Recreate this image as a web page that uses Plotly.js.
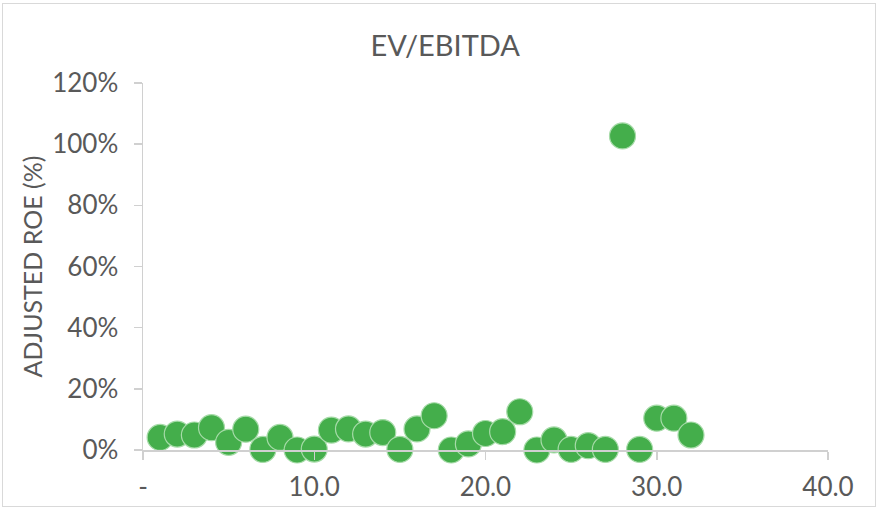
<!DOCTYPE html>
<html>
<head>
<meta charset="utf-8">
<script src="https://cdn.plot.ly/plotly-3.0.1.min.js"></script>
<style>
  html, body { margin: 0; padding: 0; background: #fff; }
  #wrap { position: relative; width: 878px; height: 508px; }
  #chart { position: absolute; left: 0; top: 0; width: 878px; height: 508px; }
  #frame { position: absolute; left: 2px; top: 3px; width: 872px; height: 502px; border: 1px solid #d9d9d9; pointer-events: none; }
</style>
</head>
<body>
<div id="wrap">
  <div id="chart"></div>
  <div id="frame"></div>
</div>
<script>
var evEbitda = [1, 2, 3, 4, 5, 6, 7, 8, 9, 10, 11, 12, 13, 14, 15, 16,
                17, 18, 19, 20, 21, 22, 23, 24, 25, 26, 27, 28, 29, 30, 31, 32];
var adjustedRoe = [0.041, 0.052, 0.049, 0.073, 0.025, 0.068, 0.002, 0.041, 0.000, 0.003, 0.065, 0.069,
                   0.052, 0.057, 0.002, 0.069, 0.112, 0.000, 0.020, 0.054, 0.060, 0.125, 0.000, 0.033,
                   0.002, 0.014, 0.002, 1.027, 0.002, 0.104, 0.104, 0.049];
var xTickVals = [0, 10, 20, 30, 40];
var xTickText = ['-', '10.0', '20.0', '30.0', '40.0'];
var yTickVals = [0, 0.2, 0.4, 0.6, 0.8, 1.0, 1.2];
var yTickText = ['0%', '20%', '40%', '60%', '80%', '100%', '120%'];

var fontFam = 'Lato, "Open Sans", sans-serif';
var textCol = '#595959';
var axisCol = '#d0d0d0';

var trace = {
  type: 'scatter',
  mode: 'markers',
  x: evEbitda,
  y: adjustedRoe,
  cliponaxis: false,
  marker: { size: 26, color: '#44ae4b', line: { color: '#a6dba8', width: 1.2 } },
  hoverinfo: 'x+y'
};

var layout = {
  width: 878,
  height: 508,
  margin: { l: 143, r: 50, t: 83, b: 58 },
  paper_bgcolor: '#ffffff',
  plot_bgcolor: '#ffffff',
  showlegend: false,
  font: { family: fontFam, color: textCol, size: 26 },
  title: {
    text: 'EV/EBITDA',
    font: { family: fontFam, size: 29, color: textCol },
    x: 0.507, xref: 'container', xanchor: 'center',
    y: 1 - 46 / 508, yref: 'container', yanchor: 'middle'
  },
  xaxis: {
    range: [0, 40],
    tickmode: 'array',
    tickvals: xTickVals,
    ticktext: xTickText,
    ticks: 'outside',
    ticklen: 8,
    tickwidth: 1.5,
    tickcolor: axisCol,
    showline: true,
    linecolor: axisCol,
    linewidth: 1.5,
    showgrid: false,
    zeroline: false,
    tickfont: { family: fontFam, size: 26, color: textCol },
    ticklabelstandoff: 5
  },
  yaxis: {
    range: [0, 1.2],
    tickmode: 'array',
    tickvals: yTickVals,
    ticktext: yTickText,
    ticks: 'outside',
    ticklen: 8,
    tickwidth: 1.5,
    tickcolor: axisCol,
    showline: true,
    linecolor: axisCol,
    linewidth: 1.5,
    showgrid: false,
    zeroline: false,
    tickfont: { family: fontFam, size: 26, color: textCol },
    ticklabelstandoff: 10,
    title: {
      text: 'ADJUSTED ROE (%)',
      font: { family: fontFam, size: 25, color: textCol },
      standoff: 2
    }
  }
};

Plotly.newPlot('chart', [trace], layout, { displayModeBar: false, staticPlot: true });
</script>
</body>
</html>
